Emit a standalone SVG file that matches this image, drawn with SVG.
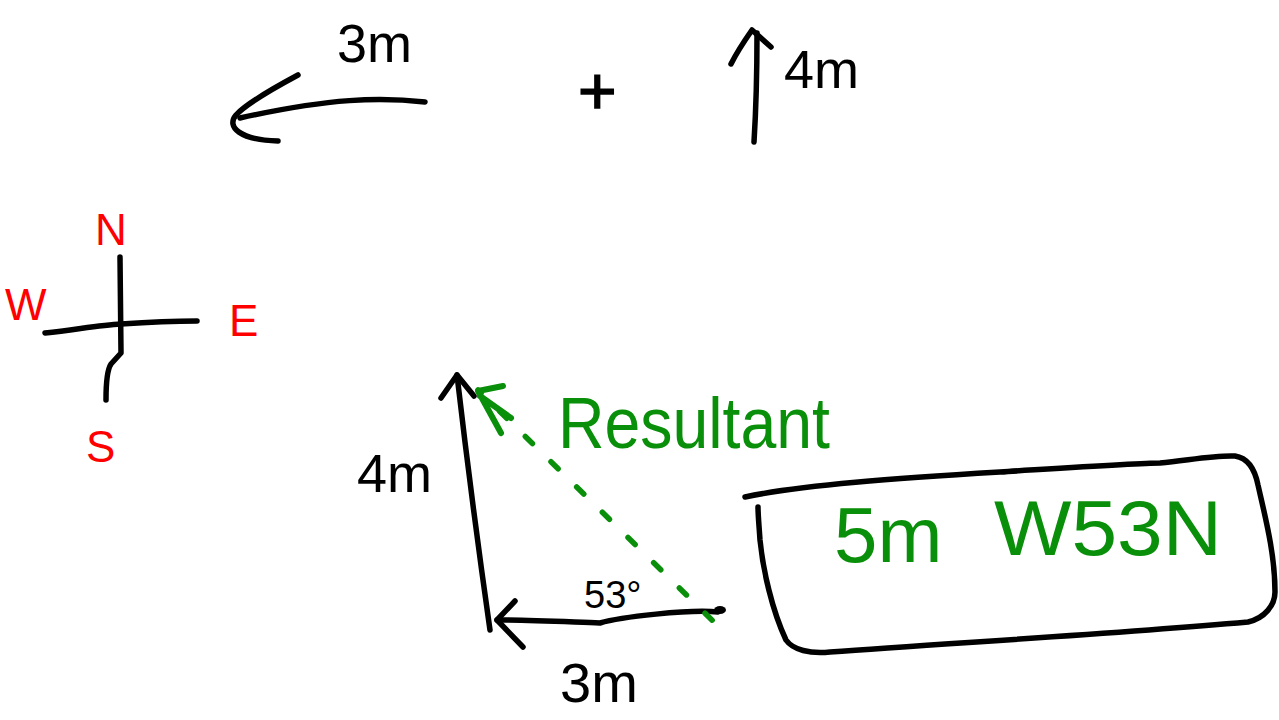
<svg xmlns="http://www.w3.org/2000/svg" width="1279" height="720" viewBox="0 0 1279 720">
<style>
.ink{fill:none;stroke:#000;stroke-width:5.5;stroke-linecap:round;stroke-linejoin:round}
.gink{fill:none;stroke:#0a8f0a;stroke-width:6;stroke-linecap:round;stroke-linejoin:round}
.dash{fill:none;stroke:#0a8f0a;stroke-width:5.5;stroke-linecap:round;stroke-dasharray:10 26}
.t{font-family:"Liberation Sans",Arial,sans-serif;fill:#000}
.g{fill:#0a8f0a}
.r{fill:#f00}
</style>
<rect width="1279" height="720" fill="#fff"/>
<g id="connectors">
  <path class="ink" d="M425,102 C380,97 330,98 240,118"/>
  <path class="ink" d="M298,75 C270,90 245,105 236,115 C226,127 240,140 278,141"/>
  <path class="ink" d="M754,142 C756,110 757,70 757,33"/>
  <path class="ink" d="M731,64 C738,50 745,40 752,30 L771,47"/>
  <path class="ink" d="M490,630 C480,560 468,470 457,375"/>
  <path class="ink" d="M441,398 L457,375 L474,396"/>
  <path class="ink" d="M718,612 C690,609 620,617 600,623 C570,622 530,620 497,620"/>
  <path class="ink" d="M515,601 L497,620 L523,647"/>
  <ellipse cx="720" cy="610" rx="6" ry="4" fill="#000"/>
  <path class="dash" d="M715,623 L478,390" stroke-dashoffset="-4"/>
  <path class="gink" d="M503,386 L478,391 L501,433 M480,396 L511,418"/>
</g>
<g id="label-3m-top"><text class="t" x="337" y="62" font-size="54">3m</text></g>
<g id="plus"><text class="t" x="578" y="114" font-size="66" stroke="#000" stroke-width="1.5">+</text></g>
<g id="label-4m-top"><text class="t" x="784" y="88" font-size="54">4m</text></g>
<g id="compass">
  <path class="ink" d="M120,257 L121,353 L111,364 C107,370 106,385 106,400"/>
  <path class="ink" d="M45,333 C80,329 100,325 121,324 C150,322 175,321 197,321"/>
  <text class="t r" x="95" y="245" font-size="44">N</text>
  <text class="t r" x="5" y="320" font-size="44">W</text>
  <text class="t r" x="229" y="336" font-size="44">E</text>
  <text class="t r" x="86" y="462" font-size="44">S</text>
</g>
<g id="label-4m-left"><text class="t" x="357" y="492" font-size="54">4m</text></g>
<g id="label-3m-bottom"><text class="t" x="560" y="702" font-size="56">3m</text></g>
<g id="angle"><text class="t" x="584" y="608" font-size="38">53°</text></g>
<g id="resultant-label"><text class="t g" x="558" y="448" font-size="72" textLength="272" lengthAdjust="spacingAndGlyphs">Resultant</text></g>
<g id="answer-box">
  <path class="ink" d="M745,497 C800,485 900,478 1000,472 C1080,467 1140,463 1160,463 C1190,460 1215,455 1235,456 C1248,458 1255,470 1258,485 C1266,520 1275,555 1275,592 C1275,605 1265,618 1248,622 C1100,635 950,643 830,652 C810,654 793,650 786,640 C772,610 763,570 760,540 C759,525 758,515 758,507"/>
  <text class="t g" x="834" y="562" font-size="78">5m</text>
  <text class="t g" x="994" y="555" font-size="78" textLength="228" lengthAdjust="spacingAndGlyphs">W53N</text>
</g>
</svg>
